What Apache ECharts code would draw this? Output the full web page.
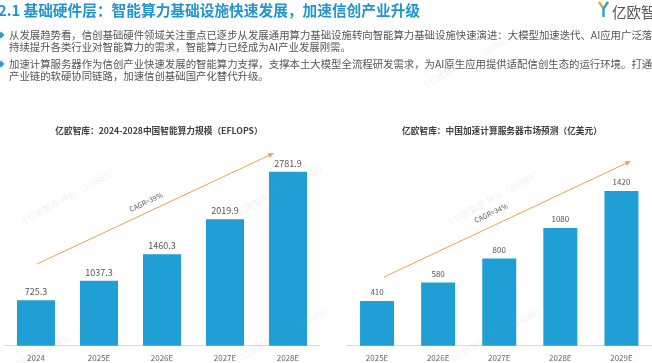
<!DOCTYPE html>
<html><head><meta charset="utf-8">
<script src="https://cdn.jsdelivr.net/npm/echarts@6/dist/echarts.min.js"></script>
<style>html,body{margin:0;padding:0;background:#fff;}#c{width:652px;height:363px;}</style>
</head><body><div id="c"></div>
<script>
const leftCategories = ['2024', '2025E', '2026E', '2027E', '2028E'];
const leftValues = [725.3, 1037.3, 1460.3, 2019.9, 2781.9];
const rightCategories = ['2025E', '2026E', '2027E', '2028E', '2029E'];
const rightValues = [410, 580, 800, 1080, 1420];
const leftTitle = '亿欧智库：2024-2028中国智能算力规模（EFLOPS）';
const rightTitle = '亿欧智库：中国加速计算服务器市场预测（亿美元）';
const leftCagr = 'CAGR=39%';
const rightCagr = 'CAGR=34%';
const pageTitle = '2.1 基础硬件层：智能算力基础设施快速发展，加速信创产业升级';
const bulletLines = [
  '从发展趋势看，信创基础硬件领域关注重点已逐步从发展通用算力基础设施转向智能算力基础设施快速演进：大模型加速迭代、AI应用广泛落地，',
  '持续提升各类行业对智能算力的需求，智能算力已经成为AI产业发展刚需。',
  '加速计算服务器作为信创产业快速发展的智能算力支撑，支撑本土大模型全流程研发需求，为AI原生应用提供适配信创生态的运行环境。打通信创',
  '产业链的软硬协同链路，加速信创基础国产化替代升级。'
];
const logoText = '亿欧智库';
const watermark = '©亿欧智库-林业（398865）';

const FONT = '"Noto Sans CJK SC", "Noto Sans", sans-serif';
const BLUE = '#1f9fd5';
const ORANGE = '#f3a04c';

const chart = echarts.init(document.getElementById('c'), null, {renderer: 'canvas'});

function txt(text, x, y, size, color, opts) {
  opts = opts || {};
  return {
    type: 'text', x: x, y: y, rotation: opts.rotation || 0, z: opts.z || 10,
    style: {
      text: text, fontSize: size, fontFamily: FONT, fontWeight: opts.weight || 'normal',
      fill: color, textAlign: opts.align || 'left', textVerticalAlign: 'middle'
    }
  };
}
function arrow(x1, y1, x2, y2) {
  const ang = Math.atan2(y2 - y1, x2 - x1);
  const L = 6, W = 2.5;
  const bx = x2 - L * Math.cos(ang), by = y2 - L * Math.sin(ang);
  const px = -Math.sin(ang) * W, py = Math.cos(ang) * W;
  return [
    {type: 'line', shape: {x1: x1, y1: y1, x2: bx, y2: by}, style: {stroke: ORANGE, lineWidth: 1}, z: 5},
    {type: 'polygon', shape: {points: [[x2, y2], [bx + px, by + py], [bx - px, by - py]]}, style: {fill: ORANGE}, z: 5}
  ];
}

const graphics = [];
// header
graphics.push(txt(pageTitle, -2, 10, 14.7, '#1f95d2', {weight: 'bold'}));
const bulletY = [35, 47, 64, 76];
bulletLines.forEach(function (l, i) {
  graphics.push(txt(l, 9, bulletY[i], 10.4, '#555555'));
});
[35, 64].forEach(function (y) {
  graphics.push({type: 'polygon', shape: {points: [[1, y - 3.5], [4.5, y], [1, y + 3.5], [-2.5, y]]}, style: {fill: '#2a9ad6'}});
});
// logo
graphics.push({type: 'polyline', shape: {points: [[599, 2], [603.5, 8.5]]}, style: {stroke: '#f4a030', lineWidth: 2.4}});
graphics.push({type: 'polyline', shape: {points: [[608, 2], [603.5, 8.5], [603.5, 17]]}, style: {stroke: '#2aa0d8', lineWidth: 2.4}});
graphics.push(txt(logoText, 612, 12, 14.5, '#555555'));
// chart titles
graphics.push(txt(leftTitle, 159, 131, 8.7, '#404040', {weight: 'bold', align: 'center'}));
graphics.push(txt(rightTitle, 502, 131, 8.7, '#404040', {weight: 'bold', align: 'center'}));
// arrows
graphics.push.apply(graphics, arrow(37, 264, 274, 153));
graphics.push.apply(graphics, arrow(384, 277, 631, 161));
graphics.push(txt(leftCagr, 146, 202, 7, '#555555', {rotation: 0.44, align: 'center'}));
graphics.push(txt(rightCagr, 491, 213, 7, '#555555', {rotation: 0.44, align: 'center'}));
// watermarks
[[69, 196], [279, 190], [62, 340], [283, 334], [495, 197], [497, 334], [180, 50], [470, 60]].forEach(function (p) {
  graphics.push(txt(watermark, p[0], p[1], 8.5, 'rgba(150,150,150,0.15)', {rotation: 0.5, align: 'center', z: 20}));
});

const axisLabelBase = {fontFamily: FONT, color: '#666666'};

chart.setOption({
  animation: false,
  backgroundColor: '#ffffff',
  grid: [
    {left: 4.5, width: 315, top: 158, height: 187.7},
    {left: 346.5, width: 315, top: 171.4, height: 174.3}
  ],
  xAxis: [
    {type: 'category', gridIndex: 0, data: leftCategories,
     axisLine: {lineStyle: {color: '#d9d9d9', width: 1}}, axisTick: {show: false},
     axisLabel: Object.assign({fontSize: 8, margin: 8}, axisLabelBase)},
    {type: 'category', gridIndex: 1, data: rightCategories,
     axisLine: {lineStyle: {color: '#d9d9d9', width: 1}}, axisTick: {show: false},
     axisLabel: Object.assign({fontSize: 8, margin: 8}, axisLabelBase)}
  ],
  yAxis: [
    {type: 'value', gridIndex: 0, min: 0, max: 3000, show: false, splitLine: {show: false}},
    {type: 'value', gridIndex: 1, min: 0, max: 1600, show: false, splitLine: {show: false}}
  ],
  series: [
    {type: 'bar', xAxisIndex: 0, yAxisIndex: 0, data: leftValues, barWidth: 38,
     itemStyle: {color: BLUE},
     label: {show: true, position: 'top', distance: 4, fontSize: 9, fontFamily: FONT, color: '#555555'}},
    {type: 'bar', xAxisIndex: 1, yAxisIndex: 1, data: rightValues, barWidth: 34,
     itemStyle: {color: BLUE},
     label: {show: true, position: 'top', distance: 5, fontSize: 8, fontFamily: FONT, color: '#555555'}}
  ],
  graphic: graphics
});
</script></body></html>
